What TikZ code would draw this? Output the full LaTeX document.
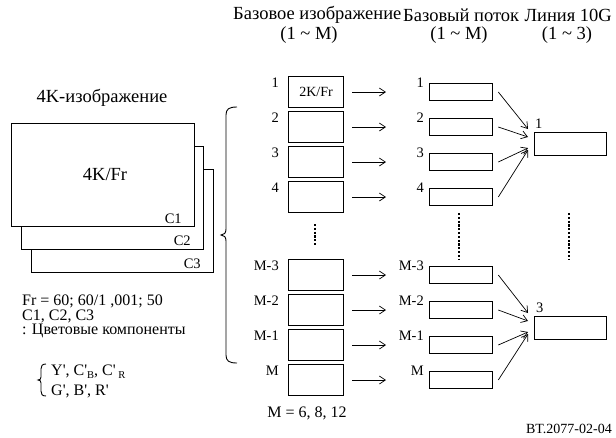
\documentclass[tikz,border=0pt]{standalone}
\usepackage{fontspec}
\setmainfont{Liberation Serif}[Ligatures=TeXOff]
\usetikzlibrary{arrows.meta,calc}
\newcommand\lowsub[1]{\raisebox{-0.4ex}{\fontsize{10.5}{10.5}\selectfont #1}}
\begin{document}
\begin{tikzpicture}[x=1pt,y=-1pt,
  every node/.style={font=\fontsize{16}{17}\selectfont, inner sep=0pt},
  lbl/.style={font=\fontsize{14.5}{16}\selectfont},
  hdr/.style={font=\fontsize{18.5}{20}\selectfont},
  frame/.style={draw, line width=0.9pt, fill=white, anchor=north west},
  imgbox/.style={draw, line width=1pt, minimum width=55pt, minimum height=31pt, anchor=north west},
  strbox/.style={draw, line width=1.3pt, minimum width=63pt, minimum height=17pt, anchor=west},
  linkbox/.style={draw, line width=1.1pt, minimum width=72pt, minimum height=23pt, anchor=north west},
  arr/.style={-{Straight Barb[length=6pt,width=8pt,line width=0.7pt]}, line width=0.7pt},
  dotline/.style={line width=2.4pt, dash pattern=on 2.2pt off 1.6pt},
  brc/.style={line width=0.9pt}]
\useasboundingbox (0,0) rectangle (616,437);

% headers
\node[hdr, anchor=west] (h1) at (233,15) {Базовое изображение};
\node[hdr, anchor=west] (h2) at (403,15) {Базовый поток};
\node[hdr, anchor=east] (h3) at (612,15) {Линия 10G};
\node[hdr] (h1b) at (309,35) {(1 \char`\~{} M)};
\node[hdr] (h2b) at (459,35) {(1 \char`\~{} M)};
\node[hdr] (h3b) at (567,35) {(1 \char`\~{} 3)};

% 4K image frames
\node[hdr] (t4k) at (102,98) {4K-изображение};
\node[frame, minimum width=182pt, minimum height=103pt] (c3) at (31,169) {};
\node[frame, minimum width=182pt, minimum height=103pt] (c2) at (21,146) {};
\node[frame, minimum width=183pt, minimum height=103pt] (c1) at (11,123) {};
\node[hdr] (fr4k) at (105,174) {4K/Fr};
\node[lbl, anchor=east] (lc1) at ([xshift=-13pt,yshift=8pt]c1.south east) {C1};
\node[lbl, anchor=east] (lc2) at ([xshift=-13pt,yshift=9pt]c2.south east) {C2};
\node[lbl, anchor=east] (lc3) at ([xshift=-13pt,yshift=9pt]c3.south east) {C3};

% notes
\node[anchor=west] (n1) at (22,301) {Fr = 60; 60/1 ,001; 50};
\node[anchor=west] (n2) at (22,316) {C1, C2, C3};
\node[anchor=west] (n3) at (22,331) {: Цветовые компоненты};
\node[anchor=west] (n4) at (51,372) {Y', C'\lowsub{B}, C'\,\lowsub{R}};
\node[anchor=west] (n5) at (51,391) {G', B', R'};
\draw[brc] (46,364) .. controls (42,364) and (41,366) .. (41,369) -- (41,377)
  .. controls (41,379) and (40,380) .. (38,380) .. controls (40,380) and (41,381) .. (41,383)
  -- (41,391) .. controls (41,394) and (42,396) .. (46,396);

% big brace
\draw[brc] (237,107) .. controls (229,107) and (226,109) .. (226,115) -- (226,229)
  .. controls (226,233) and (224,235) .. (221,235) .. controls (224,235) and (226,237) .. (226,241)
  -- (226,355) .. controls (226,361) and (229,363) .. (237,363);

% column 1: base images
\foreach \n/\y/\lab in {1/76/1, 2/111/2, 3/146/3, 4/181/4, 5/259/M-3, 6/294/M-2, 7/329/M-1, 8/364/M} {
  \node[imgbox] (a\n) at (288,\y) {};
  \node[lbl, anchor=east] (la\n) at ([xshift=-9pt,yshift=-7pt]a\n.north west) {\lab};
}
\node[font=\fontsize{14}{15}\selectfont] (k2) at (a1.center) {2K/Fr};

% column 2: base streams
\foreach \n/\lab in {1/1, 2/2, 3/3, 4/4, 5/M-3, 6/M-2, 7/M-1, 8/M} {
  \node[strbox] (b\n) at (429,0 |- a\n.center) {};
  \node[lbl, anchor=east] (lb\n) at ([xshift=-5pt]b\n.north west) {\lab};
  \draw[arr, shorten <=8pt, shorten >=43pt] (a\n.east) -- (b\n.west);
}

% column 3: 10G links
\node[linkbox] (l1) at (534,132) {};
\node[linkbox] (l3) at (534,316) {};
\node[lbl, anchor=south west] (ll1) at ([xshift=1pt,yshift=3pt]l1.north west) {1};
\node[lbl, anchor=south west] (ll3) at ([xshift=2pt,yshift=3pt]l3.north west) {3};

\draw[arr] ([xshift=5pt]b1.east) -- ([xshift=-6pt,yshift=3pt]l1.north west);
\draw[arr] ([xshift=5pt]b2.east) -- ([xshift=-6pt,yshift=-5pt]l1.north west);
\draw[arr] ([xshift=5pt]b3.east) -- ([xshift=-6pt,yshift=-16pt]l1.north west);
\draw[arr] ([xshift=5pt]b4.east) -- ([xshift=-6pt,yshift=-18pt]l1.north west);
\draw[arr] ([xshift=5pt]b5.east) -- ([xshift=-6pt,yshift=3pt]l3.north west);
\draw[arr] ([xshift=5pt]b6.east) -- ([xshift=-6pt,yshift=-5pt]l3.north west);
\draw[arr] ([xshift=5pt]b7.east) -- ([xshift=-6pt,yshift=-16pt]l3.north west);
\draw[arr] ([xshift=5pt]b8.east) -- ([xshift=-6pt,yshift=-18pt]l3.north west);

% dotted continuations
\draw[dotline] (315,224) -- (315,245);
\draw[dotline] (459,213) -- (459,260);
\draw[dotline] (569,213) -- (569,260);

% footer
\node (mval) at (307,413) {M = 6, 8, 12};
\node[anchor=east, font=\fontsize{14}{15}\selectfont] (ref) at (612,429) {BT.2077-02-04};
\end{tikzpicture}
\end{document}
